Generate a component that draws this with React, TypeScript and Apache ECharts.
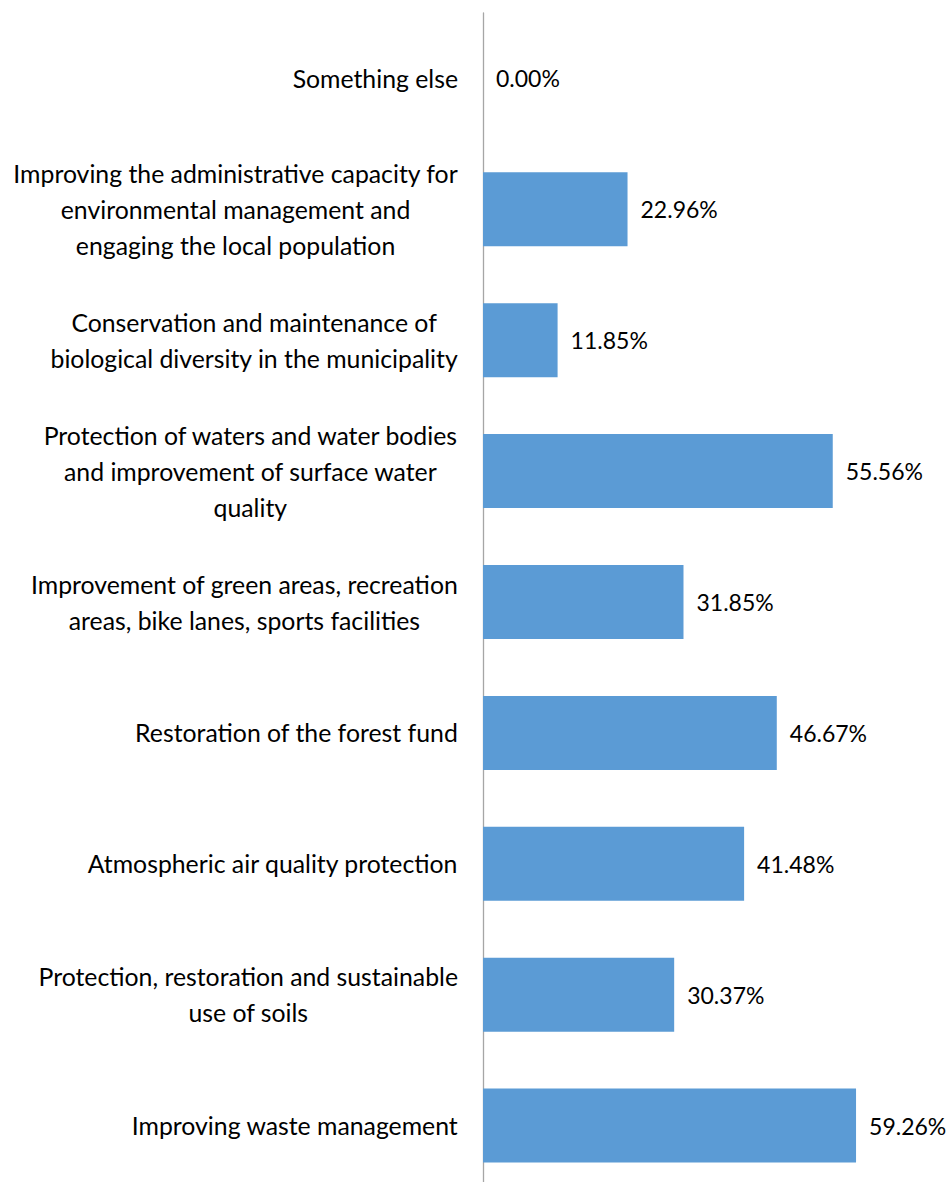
import React, { useEffect, useRef } from "react";
import * as echarts from "echarts";

const categories: string[] = [
  "Something else",
  "Improving the administrative capacity for\nenvironmental management and\nengaging the local population",
  "Conservation and maintenance of\nbiological diversity in the municipality",
  "Protection of waters and water bodies\nand improvement of surface water\nquality",
  "Improvement of green areas, recreation\nareas, bike lanes, sports facilities",
  "Restoration of the forest fund",
  "Atmospheric air quality protection",
  "Protection, restoration and sustainable\nuse of soils",
  "Improving waste management",
];

const values: number[] = [0, 22.96, 11.85, 55.56, 31.85, 46.67, 41.48, 30.37, 59.26];

const FONT = "Lato, 'Open Sans', sans-serif";

export default function App() {
  const ref = useRef<HTMLDivElement>(null);
  useEffect(() => {
    if (!ref.current) return;
    const chart = echarts.init(ref.current, undefined, { renderer: "svg" });
    chart.setOption({
      animation: false,
      backgroundColor: "#ffffff",
      grid: { left: 483, top: 13, width: 377.7, height: 1178, containLabel: false },
      xAxis: {
        type: "value",
        min: 0,
        max: 60,
        show: false,
      },
      yAxis: {
        type: "category",
        inverse: true,
        data: categories,
        axisLine: { show: true, lineStyle: { color: "#a6a6a6", width: 1.3 } },
        axisTick: { show: false },
        splitLine: { show: false },
        axisLabel: {
          margin: 25,
          align: "right",
          color: "#000",
          fontFamily: FONT,
          fontSize: 24.8,
          lineHeight: 36,
          formatter: (v: string) =>
            v
              .split("\n")
              .map((l) => `{c|${l}}`)
              .join("\n"),
          rich: {
            c: {
              align: "center",
              color: "#000",
              fontFamily: FONT,
              fontSize: 24.8,
              lineHeight: 36,
            },
          },
        },
      },
      series: [
        {
          type: "bar",
          data: values,
          barWidth: 74,
          itemStyle: { color: "#5b9bd5" },
          label: {
            show: true,
            position: "right",
            distance: 13,
            color: "#000",
            fontFamily: FONT,
            fontSize: 23,
            formatter: (p: any) => `${Number(p.value).toFixed(2)}%`,
          },
        },
      ],
    });
    return () => chart.dispose();
  }, []);
  return (
    <div
      style={{
        position: "absolute",
        left: 0,
        top: 0,
        width: 949,
        height: 1182,
        overflow: "hidden",
        background: "#fff",
      }}
    >
      <div ref={ref} style={{ width: 949, height: 1200 }} />
    </div>
  );
}
